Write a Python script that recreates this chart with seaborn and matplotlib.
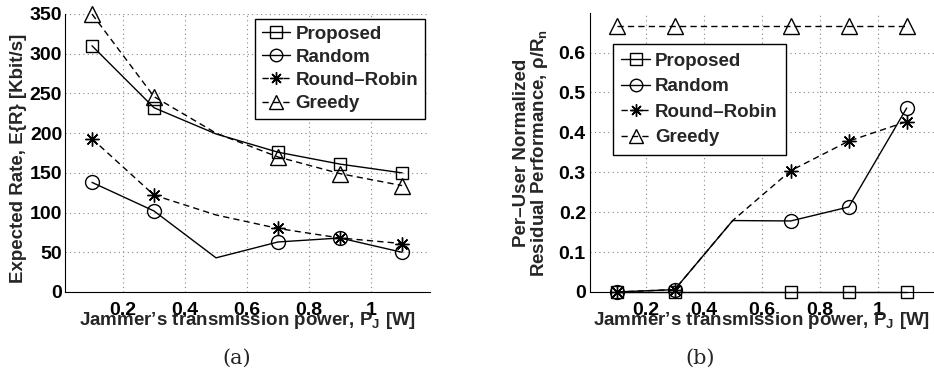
import numpy as np
import pandas as pd
import matplotlib
matplotlib.use("Agg")
import matplotlib.pyplot as plt
import seaborn as sns

# ---- data ----
power = [0.1, 0.3, 0.5, 0.7, 0.9, 1.1]
series_names = ["Proposed", "Random", "Round\u2013Robin", "Greedy"]

rate_proposed = [310, 232, 199, 176, 161, 150]
rate_random = [138, 102, 43, 63, 68, 50]
rate_roundrobin = [193, 122, 97, 80, 68, 61]
rate_greedy = [350, 246, 200, 170, 149, 134]

resid_proposed = [0.0, 0.0, 0.0, 0.0, 0.0, 0.0]
resid_random = [0.0, 0.006, 0.179, 0.178, 0.213, 0.461]
resid_roundrobin = [0.0, 0.006, 0.179, 0.304, 0.378, 0.427]
resid_greedy = [0.667, 0.667, 0.667, 0.667, 0.667, 0.667]

left_yticks = [0, 50, 100, 150, 200, 250, 300, 350]
right_yticks = [0, 0.1, 0.2, 0.3, 0.4, 0.5, 0.6]
right_ytick_labels = ["0", "0.1", "0.2", "0.3", "0.4", "0.5", "0.6"]
xticks = [0.2, 0.4, 0.6, 0.8, 1.0]
xtick_labels = ["0.2", "0.4", "0.6", "0.8", "1"]

sns.set_style("white")
plt.rcParams["font.family"] = ["Liberation Sans", "DejaVu Sans"]
plt.rcParams["font.weight"] = "bold"
plt.rcParams["mathtext.fontset"] = "custom"
plt.rcParams["mathtext.rm"] = "Liberation Sans:bold"
plt.rcParams["mathtext.bf"] = "Liberation Sans:bold"
plt.rcParams["mathtext.it"] = "Liberation Sans:bold"
plt.rcParams["axes.unicode_minus"] = False

W, H = 934, 388
fig = plt.figure(figsize=(W / 100, H / 100), dpi=100)

styles = {
    "Proposed": dict(marker="s", linestyle="-", ms=9),
    "Random": dict(marker="o", linestyle="-", ms=10),
    "Round\u2013Robin": dict(marker=(8, 2, 0), linestyle=(0, (4.5, 3)), ms=10),
    "Greedy": dict(marker="^", linestyle=(0, (4.5, 3)), ms=11),
}
mark_idx = [0, 1, 3, 4, 5]
TFS = 14
LFS = 13.5


def draw(ax, data, yticks, ylim, xlim):
    for name, vals in zip(series_names, data):
        st = styles[name]
        sns.lineplot(x=power, y=vals, ax=ax, color="black", lw=1.0,
                     marker=st["marker"], linestyle=st["linestyle"],
                     markersize=st["ms"], markerfacecolor="none",
                     markeredgecolor="black", markeredgewidth=1.0,
                     markevery=mark_idx, label=name, legend=False,
                     clip_on=False)
    ax.set_xlim(*xlim)
    ax.set_ylim(*ylim)
    ax.set_xticks(xticks)
    ax.set_xticklabels(xtick_labels)
    ax.set_yticks(yticks)
    ax.grid(True, linestyle=(0, (1, 3)), color="#888888", lw=0.8)
    for s in ["top", "right"]:
        ax.spines[s].set_visible(False)
    for s in ["left", "bottom"]:
        ax.spines[s].set_color("black")
        ax.spines[s].set_linewidth(0.8)
    ax.tick_params(direction="in", length=4, width=0.8, labelsize=TFS,
                   colors="black")
    ax.tick_params(axis="x", pad=7)
    ax.set_xlabel("Jammer\u2019s transmission power, P$_\\mathrm{J}$ [W]",
                  fontsize=LFS, fontweight="bold", labelpad=-6)


# left panel
ax1 = fig.add_axes([65 / W, 1 - 292 / H, 365 / W, 278 / H])
draw(ax1, [rate_proposed, rate_random, rate_roundrobin, rate_greedy],
     left_yticks, (0, 350), (0.013, 1.19))
ax1.tick_params(axis="y", pad=2)
ax1.set_ylabel("Expected Rate, E{R} [Kbit/s]", fontsize=LFS, fontweight="bold")
ax1.yaxis.set_label_coords(-0.105, 0.48)

# right panel
ax2 = fig.add_axes([590 / W, 1 - 292 / H, 344 / W, 279 / H])
draw(ax2, [resid_proposed, resid_random, resid_roundrobin, resid_greedy],
     right_yticks, (0, 0.699), (0.008, 1.194))
ax2.tick_params(axis="y", pad=3)
ax2.set_yticklabels(right_ytick_labels)
ax2.set_ylabel("Per\u2013User Normalized\nResidual Performance, \u03c1/R$_\\mathrm{n}$",
               fontsize=LFS, fontweight="bold", linespacing=0.95)
ax2.yaxis.set_label_coords(-0.115, 0.5)

legkw = dict(loc="upper left", fontsize=13.5, frameon=True, fancybox=False,
             edgecolor="black", handlelength=1.5, handletextpad=0.3,
             borderaxespad=0, numpoints=1, markerscale=0.9)
leg1 = ax1.legend(bbox_to_anchor=(255 / W, 1 - 19 / H),
                  bbox_transform=fig.transFigure, borderpad=0.35,
                  labelspacing=0.32, **legkw)
leg2 = ax2.legend(bbox_to_anchor=(613 / W, 1 - 44 / H),
                  bbox_transform=fig.transFigure, borderpad=0.45,
                  labelspacing=0.45, **legkw)
for lg in (leg1, leg2):
    lg.get_frame().set_linewidth(1.0)
    lg.get_frame().set_facecolor("white")
    lg.get_frame().set_alpha(1)

fig.text(237 / W, 1 - 358 / H, "(a)", fontsize=15, family="DejaVu Serif",
         fontweight="normal", ha="center", va="center")
fig.text(700 / W, 1 - 358 / H, "(b)", fontsize=15, family="DejaVu Serif",
         fontweight="normal", ha="center", va="center")

fig.savefig("out.png", dpi=100)
